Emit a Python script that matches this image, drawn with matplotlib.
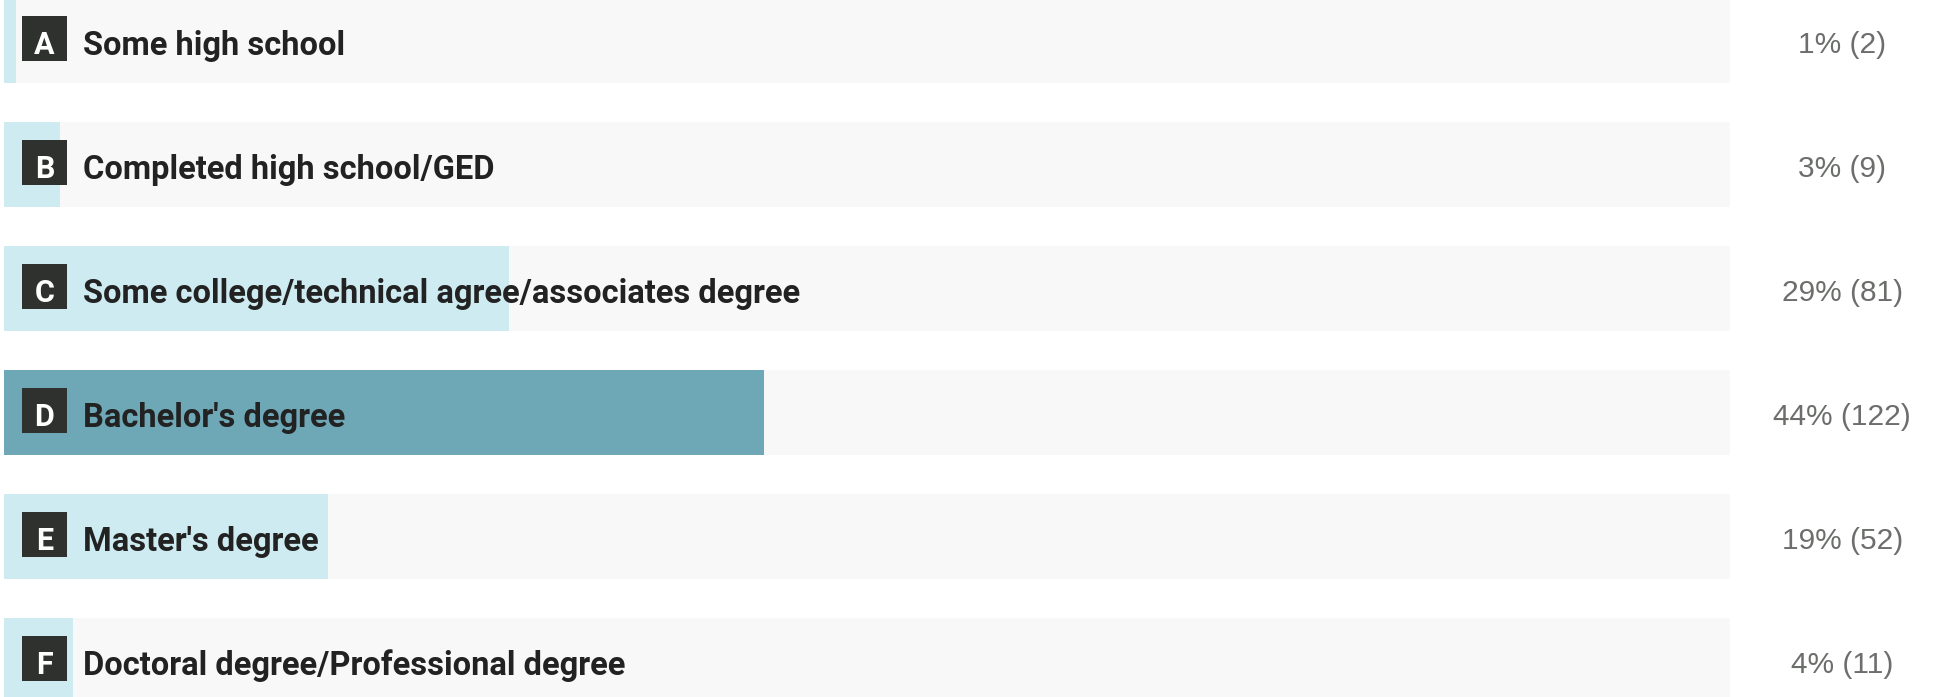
import matplotlib
matplotlib.use("Agg")
import matplotlib.pyplot as plt
from matplotlib.patches import Rectangle

letters = ["A", "B", "C", "D", "E", "F"]
answers = [
    "Some high school",
    "Completed high school/GED",
    "Some college/technical agree/associates degree",
    "Bachelor's degree",
    "Master's degree",
    "Doctoral degree/Professional degree",
]
counts = [2, 9, 81, 122, 52, 11]
percent_labels = ["1%", "3%", "29%", "44%", "19%", "4%"]

track_color = "#f8f8f8"
bar_color = "#ceebf1"
top_color = "#6ea8b7"
badge_color = "#2f312e"
label_color = "#222222"
value_color = "#6b6e6a"

fig_w, fig_h = 1938, 697
bar_left, bar_width = 4, 1726
row_pitch, row_height = 124, 85
first_center = 40.5

fig = plt.figure(figsize=(fig_w / 100, fig_h / 100), dpi=100)
fig.patch.set_facecolor("white")
ax = fig.add_axes([bar_left / fig_w, 0, bar_width / fig_w, 1])
ax.set_xlim(0, 1)
ax.set_ylim((fig_h - first_center) / row_pitch, -first_center / row_pitch)
ax.axis("off")

px = 1 / bar_width      # one pixel in x data units
py = 1 / row_pitch      # one pixel in y data units

total = sum(counts)
shares = [c / total for c in counts]
top_idx = counts.index(max(counts))
rows = list(range(len(answers)))

ax.barh(rows, [1] * len(rows), height=row_height * py, left=0,
        color=track_color, linewidth=0)
ax.barh(rows, shares, height=row_height * py, left=0,
        color=[top_color if i == top_idx else bar_color for i in rows],
        linewidth=0)

badge = 45
for i, (letter, answer, count, pct) in enumerate(zip(letters, answers, counts, percent_labels)):
    bx = 18 * px
    by = i - 2 * py - badge / 2 * py
    ax.add_patch(Rectangle((bx, by), badge * px, badge * py,
                           facecolor=badge_color, linewidth=0, zorder=3))
    ax.text(bx + badge / 2 * px, i + 13 * py, letter, ha="center", va="baseline",
            color="white", fontsize=22, fontweight="bold", family="Roboto", zorder=4)
    ax.text(79 * px, i + 14.5 * py, answer, ha="left", va="baseline",
            color=label_color, fontsize=23.5, fontweight="bold", family="Roboto", zorder=4)
    ax.text(1.065, i + 12.5 * py, f"{pct} ({count})", ha="center", va="baseline",
            color=value_color, fontsize=21.5, family="Liberation Sans", clip_on=False)

fig.savefig("out.png", dpi=100, facecolor="white")
